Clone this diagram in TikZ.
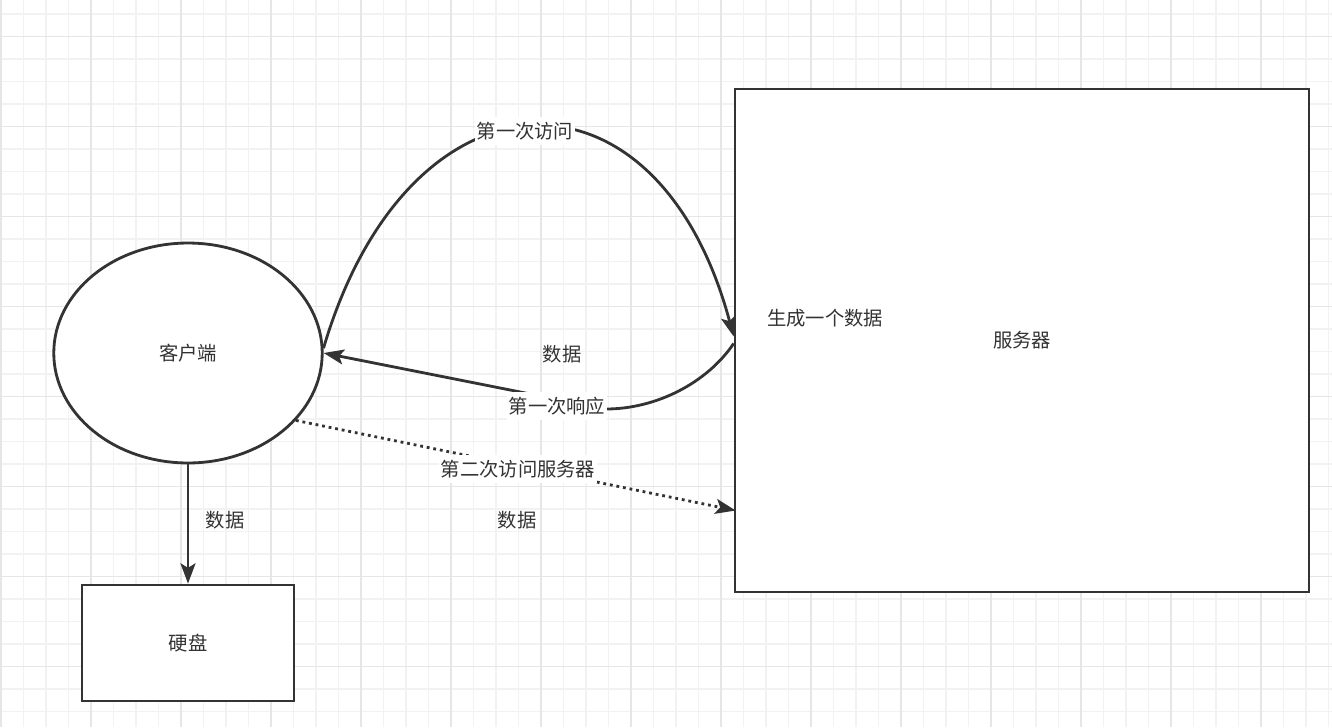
\documentclass[tikz,border=0pt]{standalone}
\usepackage{fontspec}
\newfontfamily\cjk{Noto Sans CJK SC}
\usetikzlibrary{arrows.meta,shapes.geometric,calc}
\definecolor{ink}{RGB}{51,51,51}
\definecolor{gridminor}{RGB}{242,242,242}
\definecolor{gridmajor}{RGB}{230,230,230}
\tikzset{
  txt/.style={font=\cjk\fontsize{11}{13}\selectfont, text=ink, inner sep=1pt},
  edgelabel/.style={txt, fill=white, inner xsep=1pt, inner ysep=3pt},
  boxnode/.style={txt, rectangle, draw=ink, fill=white, line width=1.6pt},
  ellipsenode/.style={txt, ellipse, draw=ink, fill=white, line width=1.6pt},
  arrow/.style={-{Stealth[length=11.5pt, width=8.5pt, inset=2.5pt]}, draw=ink, line width=1.6pt},
  dotarrow/.style={arrow, dash pattern=on 1.6pt off 2.2pt},
  minorline/.style={draw=gridminor, line width=0.8pt},
  majorline/.style={draw=gridmajor, line width=0.8pt},
}

\begin{document}
\begin{tikzpicture}[x=0.02cm, y=-0.02cm]
\useasboundingbox (0,0) rectangle (1332,727);

% ================= background grid =================
\foreach \gx in {1,23.5,...,1332} \draw[minorline] (\gx,0) -- (\gx,727);
\foreach \gy in {14,36.5,...,727} \draw[minorline] (0,\gy) -- (1332,\gy);
\foreach \gx in {1,91,...,1332} \draw[majorline] (\gx,0) -- (\gx,727);
\foreach \gy in {36.5,126.5,...,727} \draw[majorline] (0,\gy) -- (1332,\gy);

% ================= shapes =================
\node[ellipsenode, minimum width=5.37cm, minimum height=4.4cm] (client) at (188,353) {客户端};
\node[boxnode, minimum width=4.24cm, minimum height=2.32cm] (disk) at (188,643) {硬盘};
\node[boxnode, minimum width=11.48cm, minimum height=10.06cm] (server) at (1022,340.5) {服务器};
\node[txt] (gendata) at (825,318) {生成一个数据};

% free labels
\node[txt] (datatop) at (562,354) {数据};
\node[txt] (datamid) at (517,520) {数据};
\node[txt] (datadisk) at (225,520) {数据};

% ================= connectors =================
\draw[arrow] (client.2) .. controls (408,61) and (657,50) .. ($(server.west)+(0,-4)$);
\coordinate (bend) at (606,409);
\draw[arrow] ($(server.west)+(0,3)$) .. controls (707,383) and (656,409) .. (bend) -- (client.east);
\draw[dotarrow] (client.-32) -- ($(server.west)+(2,170)$);
\draw[arrow] (client.south) -- (disk.north);

% edge labels on top
\node[edgelabel] (firstreq) at (525,131) {第一次访问};
\node[edgelabel] (firstresp) at (557,406) {第一次响应};
\node[edgelabel] (secondreq) at (518,469) {第二次访问服务器};

\end{tikzpicture}
\end{document}
